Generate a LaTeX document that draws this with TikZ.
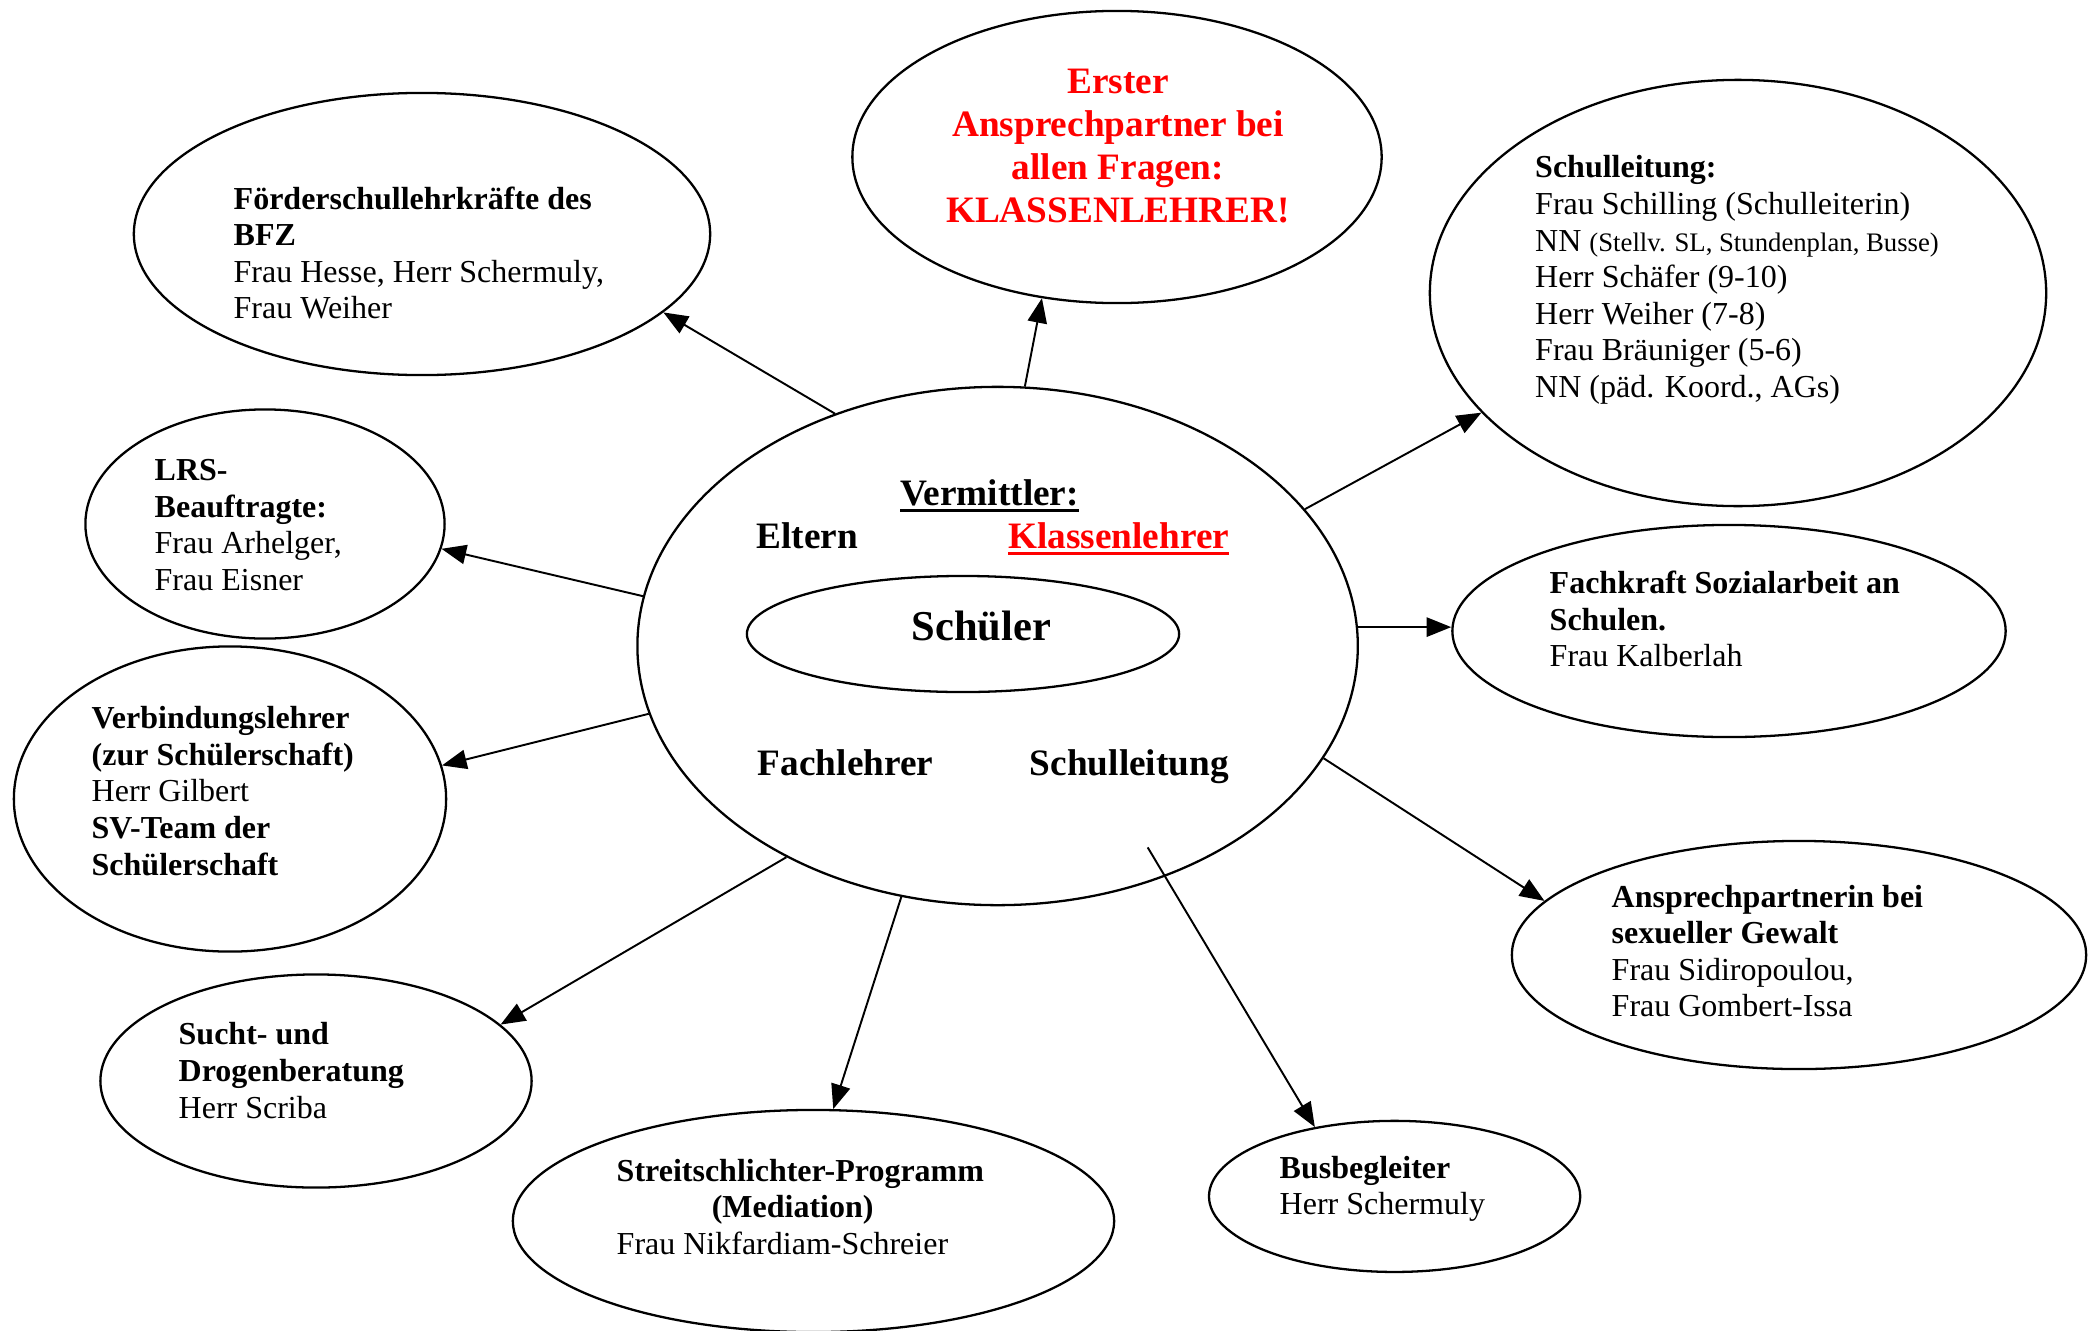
\documentclass[tikz,border=0pt]{standalone}
\usepackage{fontspec}
\setmainfont{Liberation Serif}
\usepackage{xcolor}
\usetikzlibrary{arrows.meta, shapes.geometric}

\newcommand{\bigbf}{\fontsize{10.6}{12.2}\selectfont\bfseries}
\newcommand{\smallnn}{\fontsize{7.6}{9}\selectfont}
\newcommand{\thickul}[1]{\setbox0\hbox{#1}\rlap{\rule[-2pt]{\wd0}{0.8pt}}\box0}

\tikzset{
  bubble/.style={draw, ellipse, line width=0.65pt, inner sep=0pt},
  info/.style={align=left, anchor=west, inner sep=0pt, font=\fontsize{9.1}{10.4}\selectfont},
  tag/.style={anchor=base, inner sep=0pt, font=\bigbf},
  arr/.style={-{Triangle[length=7pt,width=5.5pt]}, line width=0.55pt},
}

\begin{document}
\begin{tikzpicture}[x=0.01cm, y=-0.01cm]
\useasboundingbox (0,0) rectangle (2100,1330);

% centre
\node[bubble, minimum width=7.2cm, minimum height=5.18cm] (main) at (997.6,646) {};
\node[bubble, minimum width=4.32cm, minimum height=1.16cm] (schueler) at (963,634) {};

\node[tag] (vermittler) at (989.5,505) {\thickul{Vermittler:}};
\node[tag] (eltern) at (807.4,548) {Eltern};
\node[tag, text=red] (klassenlehrer) at (1118.7,548) {\thickul{Klassenlehrer}};
\node[tag, font=\fontsize{12.1}{14}\selectfont\bfseries] (schuelertext) at (981.5,640) {Schüler};
\node[tag] (fachlehrer) at (845.6,775) {Fachlehrer};
\node[tag] (schulleitung) at (1129.4,775) {Schulleitung};

% outer bubbles
\node[bubble, minimum width=5.29cm, minimum height=2.92cm] (top) at (1117,157) {};
\node[bubble, minimum width=5.76cm, minimum height=2.82cm] (foerder) at (422,234) {};
\node[bubble, minimum width=6.16cm, minimum height=4.26cm] (leitung) at (1738,293) {};
\node[bubble, minimum width=3.59cm, minimum height=2.29cm] (lrs) at (265,524) {};
\node[bubble, minimum width=4.32cm, minimum height=3.05cm] (vl) at (230,799) {};
\node[bubble, minimum width=5.53cm, minimum height=2.12cm] (fach) at (1729,631) {};
\node[bubble, minimum width=5.74cm, minimum height=2.28cm] (sex) at (1799,955) {};
\node[bubble, minimum width=4.31cm, minimum height=2.13cm] (sucht) at (316,1081) {};
\node[bubble, minimum width=6.01cm, minimum height=2.22cm] (streit) at (813.5,1221) {};
\node[bubble, minimum width=3.71cm, minimum height=1.51cm] (bus) at (1394.6,1196.4) {};

\node[anchor=center, align=center, inner sep=0pt, text=red, font=\bigbf] (toptext) at (1118,146) {Erster\\Ansprechpartner bei\\allen Fragen:\\KLASSENLEHRER!};

\node[info] (foerdertext) at (233,253) {\textbf{Förderschullehrkräfte des}\\\textbf{BFZ}\\Frau Hesse, Herr Schermuly,\\Frau Weiher};
\node[info] (leitungtext) at (1534.5,280) {\textbf{Schulleitung:}\\Frau Schilling (Schulleiterin)\\NN {\smallnn(Stellv. SL, Stundenplan, Busse)}\\Herr Schäfer (9-10)\\Herr Weiher (7-8)\\Frau Bräuniger (5-6)\\NN (päd. Koord., AGs)};
\node[info] (lrstext) at (154,525) {\textbf{LRS-}\\\textbf{Beauftragte:}\\Frau Arhelger,\\Frau Eisner};
\node[info] (vltext) at (91,791) {\textbf{Verbindungslehrer}\\\textbf{(zur Schülerschaft)}\\Herr Gilbert\\\textbf{SV-Team der}\\\textbf{Schülerschaft}};
\node[info] (fachtext) at (1549,619) {\textbf{Fachkraft Sozialarbeit an}\\\textbf{Schulen.}\\Frau Kalberlah};
\node[info] (sextext) at (1611,951) {\textbf{Ansprechpartnerin bei}\\\textbf{sexueller Gewalt}\\Frau Sidiropoulou,\\Frau Gombert-Issa};
\node[info] (suchttext) at (178,1070.5) {\textbf{Sucht- und}\\\textbf{Drogenberatung}\\Herr Scriba};
\node[info] (streittext) at (616,1207) {\textbf{Streitschlichter-Programm}\\\hspace*{0.95cm}\textbf{(Mediation)}\\Frau Nikfardiam-Schreier};
\node[info] (bustext) at (1279,1189) {\textbf{Busbegleiter}\\Herr Schermuly};

% arrows
\draw[arr] (main.125.4) -- (foerder.-18.9);
\draw[arr] (main.84.7) -- (top.-118.6);
\draw[arr] (main.24.5) -- (leitung.-155.7);
\draw[arr] (main.172.4) -- (lrs.-8.1);
\draw[arr] (main.191.1) -- (vl.9.4);
\draw[arr] (main.3.7) -- (main.3.7 -| fach.west);
\draw[arr] (main.-19.8) -- (sex.168.4);
\draw[arr] (main.-135.5) -- (sucht.17.8);
\draw[arr] (main.-111.8) -- (streit.80.1);
\draw[arr, shorten <=-0.34cm] (main.-54) -- (bus.139.5); % starts inside

\end{tikzpicture}
\end{document}
